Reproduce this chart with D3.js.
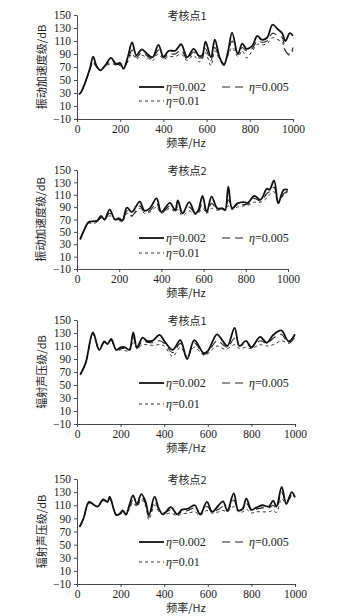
<!DOCTYPE html>
<html><head><meta charset="utf-8">
<script src="https://cdn.jsdelivr.net/npm/d3@7"></script>
<style>
html,body{margin:0;padding:0;background:#fff;}
svg text{fill:#222;}
</style></head>
<body><svg id="chart" width="349" height="616"></svg>
<script>
// ---------------- DATA ----------------
const seriesNames = ["η=0.002", "η=0.005", "η=0.01"];
const xTicks = [0, 200, 400, 600, 800, 1000];
const yTicks = [-10, 10, 30, 50, 70, 90, 110, 130, 150];
const panelTitles = ["考核点1", "考核点2", "考核点1", "考核点2"];
const yLabels = ["振动加速度级/dB", "振动加速度级/dB", "辐射声压级/dB", "辐射声压级/dB"];
const xLabel = "频率/Hz";

// Panel 1
const freq1 = [10, 20, 40, 60, 75, 90, 108, 130, 157, 180, 200, 215, 235, 255, 275, 300, 325, 350, 377, 400, 425, 455, 482, 510, 540, 565, 580, 595, 620, 638, 660, 680, 700, 718, 745, 765, 785, 810, 835, 855, 880, 905, 930, 950, 965, 985, 1000];
const p1_002 = [28, 32, 48, 68, 86, 72, 65, 72, 84, 75, 76, 67, 85, 108, 88, 97, 90, 85, 104, 86, 95, 95, 105, 85, 98, 87, 88, 109, 85, 112, 85, 73, 95, 123, 90, 106, 98, 102, 118, 112, 115, 135, 128, 122, 110, 122, 118];
const p1_005 = [28, 32, 48, 67, 80, 70, 66, 72, 78, 74, 74, 68, 80, 96, 85, 92, 87, 82, 96, 84, 90, 90, 96, 82, 93, 84, 85, 98, 80, 100, 84, 75, 92, 110, 90, 100, 95, 98, 110, 108, 110, 122, 118, 115, 95, 88, 100];
const p1_01  = [28, 32, 47, 66, 77, 69, 66, 71, 75, 73, 72, 68, 78, 90, 82, 88, 84, 80, 90, 82, 86, 86, 90, 80, 88, 78, 82, 92, 72, 95, 82, 76, 88, 100, 86, 95, 84, 94, 105, 104, 106, 115, 112, 108, 94, 90, 95];

// Panel 2
const freq2 = [15, 30, 55, 75, 95, 114, 130, 155, 180, 200, 215, 237, 260, 297, 320, 345, 377, 400, 440, 465, 478, 500, 532, 560, 575, 595, 615, 638, 665, 690, 702, 717, 735, 760, 790, 810, 840, 870, 900, 912, 934, 954, 980, 1000];
const p2_002 = [38, 50, 66, 67, 68, 76, 70, 86, 70, 72, 68, 89, 82, 99, 84, 88, 104, 82, 97, 85, 101, 80, 98, 80, 85, 108, 82, 107, 88, 88, 85, 123, 88, 96, 98, 97, 108, 102, 120, 118, 133, 97, 118, 118];
const p2_005 = [38, 50, 65, 64, 67, 73, 70, 80, 70, 70, 68, 84, 76, 92, 82, 84, 96, 80, 92, 84, 92, 80, 90, 80, 82, 96, 82, 96, 86, 88, 86, 102, 88, 94, 94, 95, 104, 100, 112, 115, 122, 96, 112, 116];
const p2_01  = [38, 50, 64, 63, 66, 72, 69, 76, 70, 68, 66, 80, 75, 88, 80, 82, 90, 80, 88, 82, 86, 76, 84, 78, 80, 88, 80, 88, 85, 86, 86, 92, 86, 90, 92, 93, 98, 98, 105, 110, 115, 98, 110, 115];

// Panel 3
const freq3 = [15, 40, 73, 102, 125, 140, 157, 180, 200, 220, 240, 258, 275, 301, 320, 345, 379, 400, 439, 474, 505, 538, 581, 600, 642, 670, 690, 723, 745, 775, 800, 840, 870, 900, 937, 971, 1000];
const p3_002 = [66, 84, 131, 104, 117, 113, 121, 104, 108, 108, 104, 131, 108, 123, 118, 118, 127, 118, 104, 119, 90, 119, 99, 102, 128, 117, 110, 138, 110, 118, 108, 124, 115, 127, 134, 117, 128];
const p3_005 = [66, 84, 129, 104, 116, 113, 119, 104, 106, 106, 104, 124, 106, 118, 116, 115, 118, 114, 100, 114, 92, 115, 97, 100, 118, 112, 108, 122, 110, 114, 108, 118, 114, 122, 128, 114, 124];
const p3_01  = [66, 84, 128, 104, 115, 113, 118, 104, 104, 103, 102, 115, 106, 112, 112, 111, 112, 110, 94, 108, 95, 108, 96, 98, 110, 106, 106, 112, 106, 108, 106, 112, 110, 112, 118, 115, 126];

// Panel 4
const freq4 = [12, 30, 55, 80, 95, 120, 140, 150, 180, 195, 210, 225, 240, 257, 275, 295, 315, 330, 356, 375, 395, 430, 460, 480, 510, 540, 565, 596, 620, 650, 670, 690, 719, 740, 760, 777, 800, 820, 850, 880, 900, 915, 939, 960, 985, 1000];
const p4_002 = [77, 90, 115, 110, 108, 119, 115, 123, 95, 97, 102, 96, 110, 125, 112, 127, 115, 95, 123, 105, 96, 107, 96, 103, 105, 110, 96, 115, 100, 110, 116, 102, 128, 102, 105, 120, 103, 106, 110, 108, 117, 108, 138, 112, 130, 122];
const p4_005 = [77, 90, 114, 110, 108, 118, 115, 121, 96, 97, 100, 96, 106, 118, 110, 122, 112, 92, 116, 104, 98, 103, 96, 100, 102, 106, 97, 108, 100, 104, 108, 101, 118, 102, 104, 113, 102, 104, 106, 106, 110, 106, 130, 114, 126, 123];
const p4_01  = [77, 90, 113, 110, 108, 117, 115, 120, 96, 96, 98, 95, 104, 114, 108, 118, 108, 88, 110, 100, 96, 98, 94, 97, 98, 100, 95, 102, 98, 100, 102, 100, 108, 100, 100, 104, 98, 100, 100, 100, 102, 99, 120, 112, 124, 124];

// ---------------- LAYOUT ----------------
const panels = [
  {freq: freq1, series: [p1_002, p1_005, p1_01], box: {l: 77, r: 293, t: 15, b: 119}, legY: [87, 101], ylabX: 42},
  {freq: freq2, series: [p2_002, p2_005, p2_01], box: {l: 77, r: 288, t: 170, b: 269}, legY: [238, 253], ylabX: 41},
  {freq: freq3, series: [p3_002, p3_005, p3_01], box: {l: 77, r: 295, t: 320, b: 424}, legY: [383, 404], ylabX: 42},
  {freq: freq4, series: [p4_002, p4_005, p4_01], box: {l: 77, r: 295, t: 479, b: 584}, legY: [542, 562], ylabX: 42}
];
const styles = [
  {w: 1.8, dash: null, color: "#111"},
  {w: 1.1, dash: "8,5", color: "#222"},
  {w: 1.0, dash: "3,3", color: "#333"}
];
const numFont = "'Liberation Serif', 'DejaVu Serif', serif";
const cjkFont = "'Noto Sans CJK SC', 'Liberation Serif', serif";

const svg = d3.select("#chart");

panels.forEach((p, pi) => {
  const b = p.box;
  const x = d3.scaleLinear().domain([0, 1000]).range([b.l, b.r]);
  const y = d3.scaleLinear().domain([-10, 150]).range([b.b, b.t]);
  const g = svg.append("g");

  const xAxis = g.append("g").attr("transform", `translate(0,${b.b})`)
    .call(d3.axisBottom(x).tickValues(xTicks).tickSize(3).tickSizeOuter(0).tickPadding(3).tickFormat(d3.format("d")));
  const yAxis = g.append("g").attr("transform", `translate(${b.l},0)`)
    .call(d3.axisLeft(y).tickValues(yTicks).tickSize(3).tickSizeOuter(0).tickPadding(3));
  [xAxis, yAxis].forEach(a => {
    a.selectAll("path,line").attr("stroke", "#333").attr("stroke-width", 0.9);
    a.selectAll("text").style("font-family", numFont).style("font-size", "11.5px").attr("fill", "#222");
  });

  const line = d3.line().x((d, i) => x(p.freq[i])).y(d => y(d)).curve(d3.curveCatmullRom.alpha(0.5));
  [2, 1, 0].forEach(si => {
    const st = styles[si];
    g.append("path").datum(p.series[si])
      .attr("d", line).attr("fill", "none")
      .attr("stroke", st.color).attr("stroke-width", st.w)
      .attr("stroke-dasharray", st.dash).attr("stroke-linejoin", "round");
  });

  g.append("text").attr("x", 187).attr("y", b.t + 5).attr("text-anchor", "middle")
    .style("font-family", cjkFont).style("font-size", "11px").text(panelTitles[pi]);
  g.append("text").attr("transform", `translate(${p.ylabX},${(b.t + b.b) / 2}) rotate(-90)`)
    .attr("text-anchor", "middle").attr("dy", "0.35em")
    .style("font-family", cjkFont).style("font-size", "11px").text(yLabels[pi]);
  g.append("text").attr("x", 186).attr("y", b.b + 28).attr("text-anchor", "middle")
    .style("font-family", cjkFont).style("font-size", "11px").text(xLabel);

  const legPos = [
    {x: 139, y: p.legY[0]},
    {x: 222, y: p.legY[0]},
    {x: 139, y: p.legY[1]}
  ];
  legPos.forEach((lp, si) => {
    const st = styles[si];
    g.append("line").attr("x1", lp.x).attr("x2", lp.x + 25).attr("y1", lp.y).attr("y2", lp.y)
      .attr("stroke", st.color).attr("stroke-width", st.w).attr("stroke-dasharray", st.dash);
    const parts = seriesNames[si].split("=");
    const t = g.append("text").attr("x", lp.x + 27).attr("y", lp.y).attr("dy", "0.35em")
      .style("font-family", numFont).style("font-size", "12px");
    t.append("tspan").style("font-style", "italic").text(parts[0]);
    t.append("tspan").text("=" + parts[1]);
  });
});
</script></body></html>
